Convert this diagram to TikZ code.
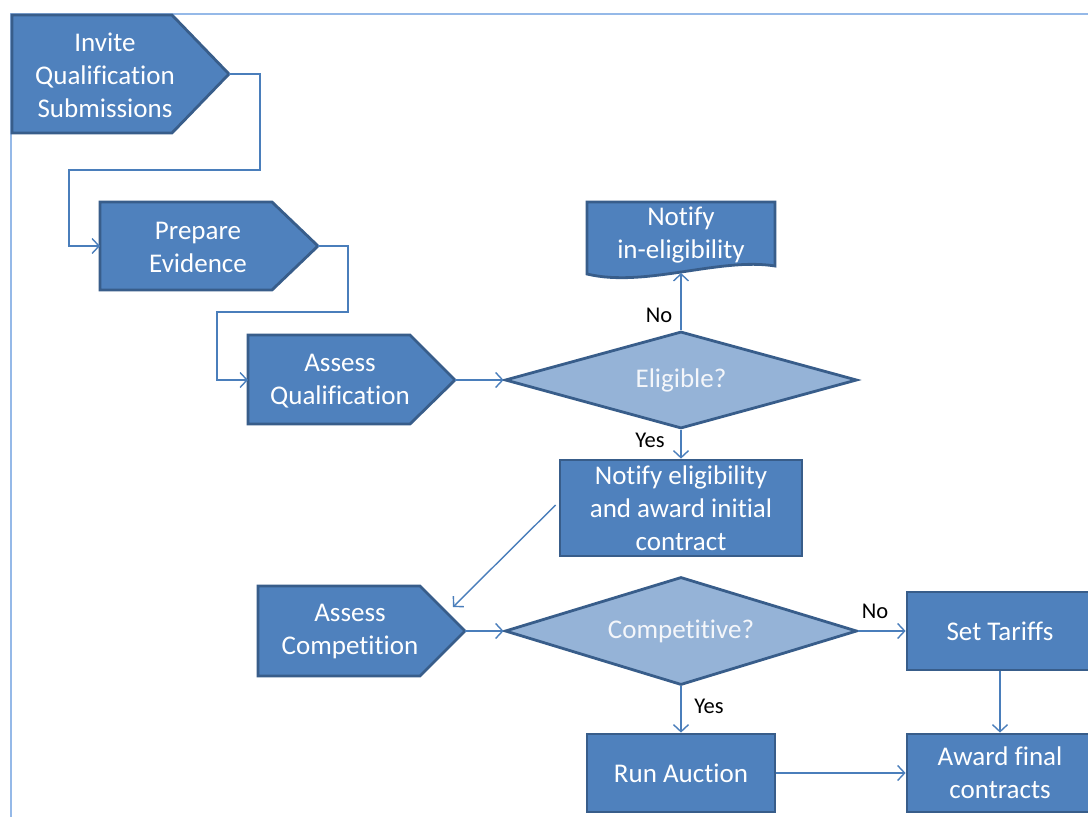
\documentclass[tikz,border=0pt]{standalone}
\usepackage{fontspec}
\setmainfont{Carlito}[Ligatures=NoCommon]
\usetikzlibrary{shapes.geometric,arrows.meta,calc}
\definecolor{boxfill}{HTML}{4F81BD}
\definecolor{boxline}{HTML}{385D8A}
\definecolor{dfill}{HTML}{95B3D7}
\definecolor{conncol}{HTML}{4A7EBB}
\definecolor{framecol}{HTML}{95B9E8}
\definecolor{dtext}{HTML}{F4F6FA}
\tikzset{
  shapebox/.style={fill=boxfill,draw=boxline,line width=2.8pt,line join=miter},
  boxtext/.style={text=white,font=\fontsize{27}{33}\selectfont,align=center,inner sep=0pt},
  rectbox/.style={shapebox,rectangle,inner sep=0pt,text=white,font=\fontsize{27}{33}\selectfont,align=center},
  decision/.style={diamond,aspect=4,fill=dfill,draw=boxline,line width=2.8pt,inner sep=0pt,text=dtext,font=\fontsize{27}{33}\selectfont},
  conn/.style={draw=conncol,line width=1.4pt,-{Straight Barb[length=7pt,width=15pt,line width=1.4pt]}},
  lbl/.style={font=\fontsize{22.5}{26}\selectfont,text=black,inner sep=0pt}
}
\begin{document}
\begin{tikzpicture}[x=1pt,y=-1pt]
\clip (0,0) rectangle (1088,817);
\fill[white] (0,0) rectangle (1088,817);
% frame
\draw[framecol,line width=2pt] (11,817) -- (11,14) -- (1088,14);

% Invite Qualification Submissions
\draw[shapebox] (12,15) -- (172,15) -- (229,74) -- (172,133) -- (12,133) -- cycle;
\coordinate (invtip) at (229,74);
\node[boxtext] (inv) at (105,75) {Invite\\Qualification\\Submissions};

% Prepare Evidence
\draw[shapebox] (100,202) -- (272,202) -- (318,246) -- (272,290) -- (100,290) -- cycle;
\coordinate (preptip) at (318,246);
\coordinate (prepin) at (100,246);
\node[boxtext] (prep) at (198,247) {Prepare\\Evidence};

% Assess Qualification
\draw[shapebox] (248,335) -- (410,335) -- (455,380) -- (410,424) -- (248,424) -- cycle;
\coordinate (aqtip) at (455,380);
\coordinate (aqin) at (248,380);
\node[boxtext] (aq) at (340,381) {Assess\\Qualification};

% Assess Competition
\draw[shapebox] (258,586) -- (420,586) -- (465,631) -- (420,676) -- (258,676) -- cycle;
\coordinate (actip) at (465,631);
\coordinate (acin) at (453,607);
\node[boxtext] (ac) at (350,632) {Assess\\Competition};

% Notify in-eligibility (document shape)
\draw[shapebox] (587,202) -- (775,202) -- (775,266) .. controls (720,257) and (645,288) .. (587,274) -- cycle;
\coordinate (ninbot) at (681,273);
\node[boxtext] (nin) at (681,235) {Notify\\in-eligibility};

% Decisions
\node[decision,minimum width=352pt,minimum height=97pt] (elig) at (681,380) {Eligible?};
\node[decision,minimum width=352pt,minimum height=108pt] (comp) at (681,631) {Competitive?};

% Rectangles
\node[rectbox,minimum width=242pt,minimum height=96pt] (nel) at (681,508) {Notify eligibility\\and award initial\\contract};
\node[rectbox,minimum width=186pt,minimum height=78pt] (tar) at (1000,631) {Set Tariffs};
\node[rectbox,minimum width=188pt,minimum height=78pt] (run) at (681,773) {Run Auction};
\node[rectbox,minimum width=186pt,minimum height=78pt] (awd) at (1000,773) {Award final\\contracts};

% Connectors
\draw[conn] (invtip) -- (260,74) -- (260,170) -- (69,170) -- (69,246) -- (prepin);
\draw[conn] (preptip) -- (348,246) -- (348,312) -- (217,312) -- (217,380) -- (aqin);
\draw[conn] (aqtip) -- (elig.west);
\draw[conn] (elig.north) -- (ninbot);
\draw[conn] (elig.south) -- (nel.north);
\draw[conn] ($(nel.west)+(-3,-3)$) -- (acin);
\draw[conn] (actip) -- (comp.west);
\draw[conn] (comp.east) -- (tar.west);
\draw[conn] (comp.south) -- (run.north);
\draw[conn] (tar.south) -- (awd.north);
\draw[conn] (run.east) -- (awd.west);

% Labels
\node[lbl] (lno1) at (659,315) {No};
\node[lbl] (lyes1) at (650,440) {Yes};
\node[lbl] (lno2) at (875,611) {No};
\node[lbl] (lyes2) at (709,706) {Yes};
\end{tikzpicture}
\end{document}
